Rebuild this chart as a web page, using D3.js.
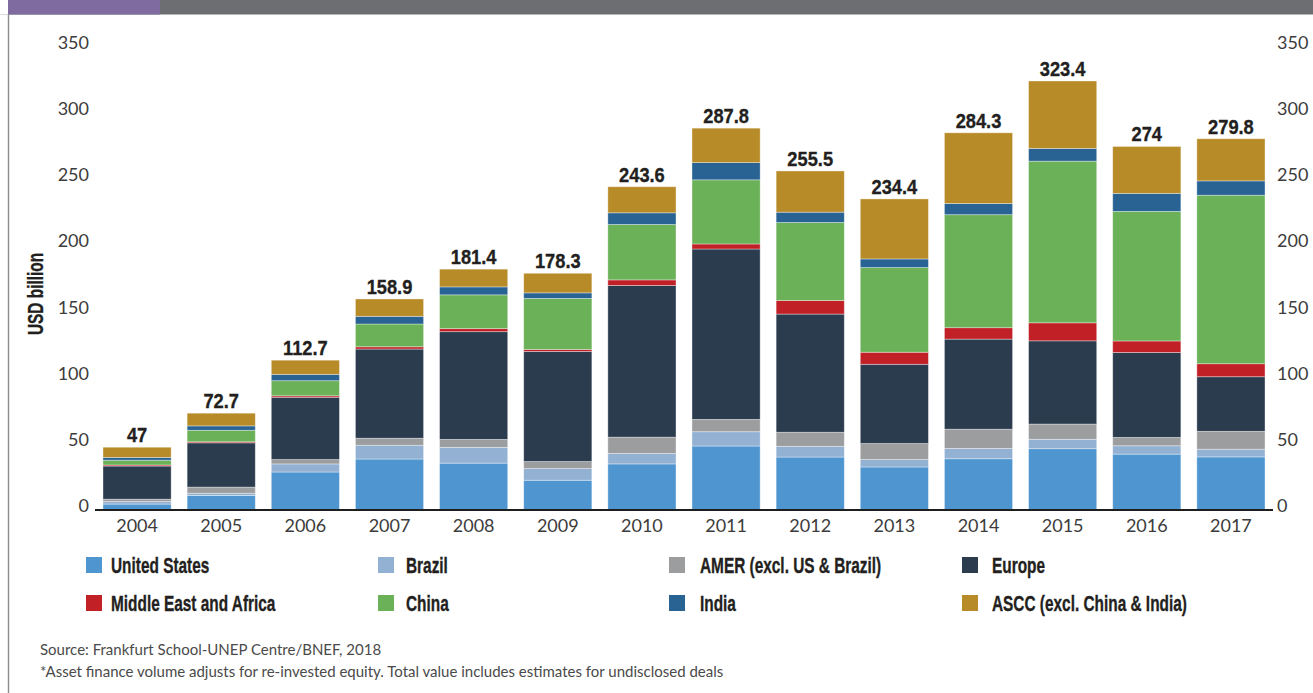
<!DOCTYPE html>
<html>
<head>
<meta charset="utf-8">
<script src="https://cdn.jsdelivr.net/npm/d3@7"></script>
<style>
  html, body { margin: 0; padding: 0; background: #fff; }
  svg { display: block; }
  .tick-label { font-family: Lato, "Open Sans", sans-serif; font-size: 18px; fill: #3c3c3c; }
  .cond { font-family: "Liberation Sans", Arial, sans-serif; font-weight: bold; fill: #231f20; stroke: #231f20; stroke-width: 0.35; }
  .note { font-family: Lato, "Open Sans", sans-serif; font-size: 15px; fill: #4a4a4a; }
</style>
</head>
<body>
<svg id="chart" width="1313" height="693"></svg>
<script>
// New investment in renewable energy by region, USD billion
const years = [2004, 2005, 2006, 2007, 2008, 2009, 2010, 2011, 2012, 2013, 2014, 2015, 2016, 2017];

const unitedStates = [4.1, 10.6, 28.3, 38.1, 35.0, 22.1, 34.4, 47.9, 39.6, 32.1, 38.3, 45.9, 41.8, 39.7];
const brazil       = [1.9, 1.7, 6.1, 10.4, 11.9, 8.8, 7.9, 10.8, 8.1, 5.6, 7.8, 7.1, 6.3, 5.8];
const amer         = [1.8, 4.6, 3.3, 5.3, 6.0, 5.3, 12.3, 9.3, 10.6, 12.1, 14.5, 11.5, 6.3, 13.5];
const europe       = [25.0, 33.4, 47.0, 67.3, 81.3, 83.1, 114.5, 128.6, 89.2, 59.8, 68.0, 62.8, 64.1, 41.2];
const mea          = [0.8, 0.8, 1.1, 1.7, 2.3, 1.5, 4.2, 3.8, 10.3, 9.1, 8.6, 13.6, 8.7, 9.8];
const china        = [3.6, 8.7, 11.4, 17.2, 25.5, 38.5, 41.8, 48.4, 58.8, 63.9, 85.3, 122.0, 97.8, 127.2];
const india        = [2.1, 3.3, 4.8, 5.8, 6.0, 4.2, 8.8, 13.0, 7.8, 6.5, 8.5, 9.6, 13.6, 10.8];
const ascc         = [7.7, 9.6, 10.7, 13.1, 13.4, 14.8, 19.7, 26.0, 31.1, 45.3, 53.3, 50.9, 35.4, 31.8];

const totals = [47, 72.7, 112.7, 158.9, 181.4, 178.3, 243.6, 287.8, 255.5, 234.4, 284.3, 323.4, 274, 279.8];

const seriesNames = ["United States", "Brazil", "AMER (excl. US & Brazil)", "Europe",
                     "Middle East and Africa", "China", "India", "ASCC (excl. China & India)"];
const seriesValues = [unitedStates, brazil, amer, europe, mea, china, india, ascc];
const seriesColors = ["#4f96d1", "#93b1d3", "#9c9d9f", "#2c3c4f", "#c22027", "#6bb157", "#286394", "#b88b29"];

const yTicks = [0, 50, 100, 150, 200, 250, 300, 350];

// Row-per-year table for the stack layout
const table = years.map((yr, i) => {
  const row = { year: yr };
  seriesNames.forEach((n, k) => { row[n] = seriesValues[k][i]; });
  return row;
});

const svg = d3.select("#chart");

// Narrow bold text: horizontally compressed bold face
function narrowText(parent, x, y, str, size, squeeze, anchor, rotate) {
  const t = `translate(${x},${y})` + (rotate ? ` rotate(${rotate})` : "") + ` scale(${squeeze},1)`;
  return parent.append("text").attr("class", "cond")
    .attr("font-size", size)
    .attr("text-anchor", anchor || "start")
    .attr("transform", t)
    .text(str);
}

// Header band and left rule
svg.append("rect").attr("x", 0).attr("y", 0).attr("width", 1313).attr("height", 14.5).attr("fill", "#6d6e72");
svg.append("rect").attr("x", 0).attr("y", 0).attr("width", 8).attr("height", 14.5).attr("fill", "#fff");
svg.append("rect").attr("x", 8).attr("y", 0).attr("width", 152).attr("height", 14.5).attr("fill", "#7f6ba0");
svg.append("line").attr("x1", 8.5).attr("x2", 8.5).attr("y1", 14.5).attr("y2", 693)
  .attr("stroke", "#8c8c8c").attr("stroke-width", 1.4);

const plotLeft = 95, plotRight = 1273, baseY = 509.5;

const x = d3.scaleBand().domain(years).range([plotLeft, plotRight])
  .paddingInner(0.19).paddingOuter(0.095);
const y = d3.scaleLinear().domain([0, 350]).range([baseY, baseY - 350 * 1.325]);

const stack = d3.stack().keys(seriesNames);
const layers = stack(table);

const gBars = svg.append("g");
layers.forEach((layer, k) => {
  gBars.append("g").attr("fill", seriesColors[k])
    .selectAll("rect").data(layer).join("rect")
    .attr("x", d => x(d.data.year))
    .attr("width", x.bandwidth())
    .attr("y", d => y(d[1]))
    .attr("height", d => Math.max(0, y(d[0]) - y(d[1])))
    .attr("stroke", "rgba(255,255,255,0.45)")
    .attr("stroke-width", 0.8);
});

// Total labels above each stack
const gTotals = svg.append("g");
years.forEach((yr, i) => {
  narrowText(gTotals, x(yr) + x.bandwidth() / 2, y(totals[i]) - 5, String(totals[i]), 21, 0.87, "middle");
});

// Baseline
svg.append("line").attr("x1", plotLeft).attr("x2", plotRight).attr("y1", baseY + 0.5).attr("y2", baseY + 0.5)
  .attr("stroke", "#1e1e1e").attr("stroke-width", 2);

// X axis labels
const xAxis = d3.axisBottom(x).tickSize(0).tickPadding(0);
const gx = svg.append("g").attr("transform", `translate(0,${baseY})`).call(xAxis);
gx.select(".domain").remove();
gx.selectAll("text").attr("class", "tick-label").attr("fill", null)
  .attr("font-family", null).attr("font-size", null)
  .attr("dy", null).attr("y", 22.5);

// Left and right value axes
const leftAxis = d3.axisLeft(y).tickValues(yTicks).tickSize(0).tickPadding(0);
const gl = svg.append("g").attr("transform", "translate(89,-3.5)").call(leftAxis);
gl.select(".domain").remove();
gl.selectAll("text").attr("class", "tick-label").attr("fill", null)
  .attr("font-family", null).attr("font-size", null).attr("x", 0);

const rightAxis = d3.axisRight(y).tickValues(yTicks).tickSize(0).tickPadding(0);
const gr = svg.append("g").attr("transform", "translate(1277,-3.5)").call(rightAxis);
gr.select(".domain").remove();
gr.selectAll("text").attr("class", "tick-label").attr("fill", null)
  .attr("font-family", null).attr("font-size", null).attr("x", 0);

// Axis title
narrowText(svg, 43, 294, "USD billion", 22, 0.7, "middle", -90);

// Legend, two rows of four
const legendSwatchX = [86, 378, 669, 962];
const legendTextX = [111, 406, 700, 992];
const legendRowY = [557, 595];
const legend = svg.append("g");
seriesNames.forEach((name, k) => {
  const col = k % 4, row = Math.floor(k / 4);
  legend.append("rect")
    .attr("x", legendSwatchX[col]).attr("y", legendRowY[row])
    .attr("width", 16).attr("height", 16)
    .attr("fill", seriesColors[k]);
  narrowText(legend, legendTextX[col], legendRowY[row] + 15.5, name, 22, 0.7, "start");
});

// Source notes
svg.append("text").attr("class", "note").attr("x", 40).attr("y", 655)
  .text("Source: Frankfurt School-UNEP Centre/BNEF, 2018");
svg.append("text").attr("class", "note").attr("x", 40).attr("y", 677)
  .text("*Asset finance volume adjusts for re-invested equity. Total value includes estimates for undisclosed deals");
</script>
</body>
</html>
